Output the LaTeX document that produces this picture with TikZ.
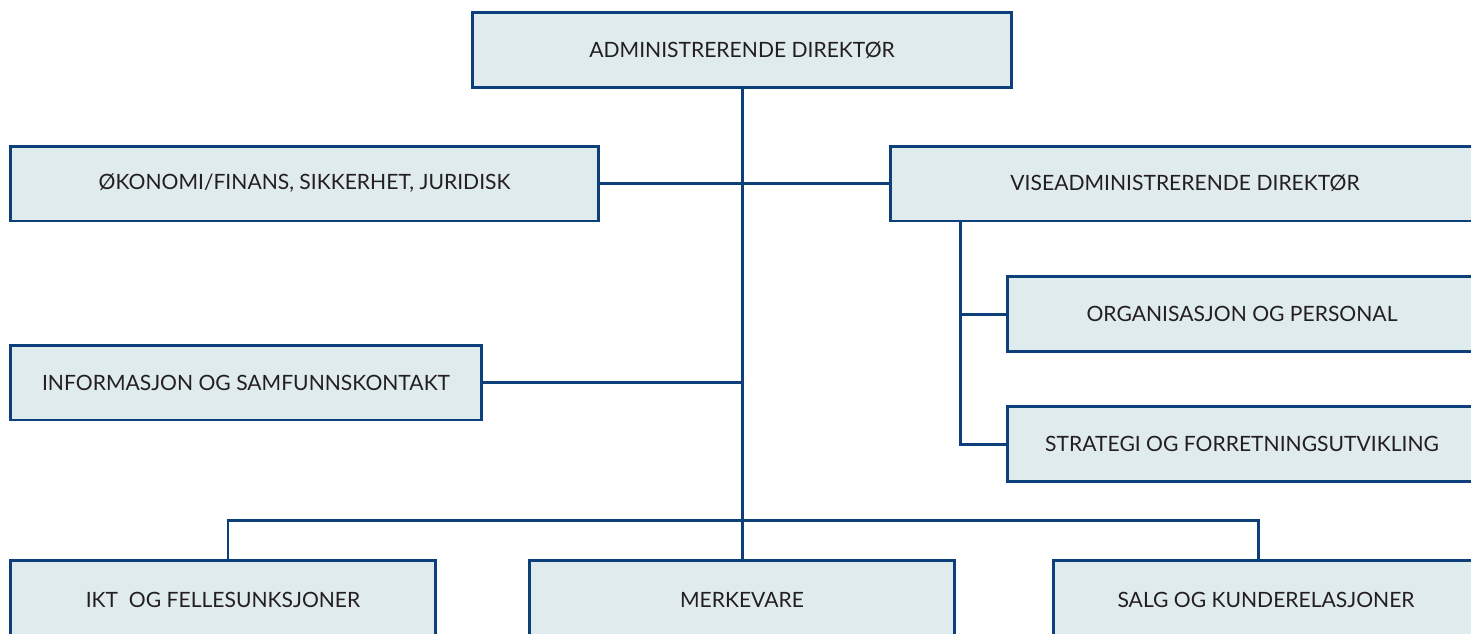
\documentclass[tikz,border=0pt]{standalone}
\usepackage{fontspec}
\setmainfont{Lato}
\definecolor{orgline}{HTML}{0D3F7A}
\definecolor{orgfill}{HTML}{E0EBED}
\definecolor{orgtext}{HTML}{231F20}
\begin{document}
\begin{tikzpicture}[x=0.02cm,y=-0.02cm,
		unit/.style={draw=orgline,fill=orgfill,line width=1.7pt,text=orgtext,
			font=\fontsize{12}{14}\selectfont,inner sep=0pt,minimum height=1.5cm},
		link/.style={draw=orgline,line width=1.7pt}]
				\useasboundingbox (0,0) rectangle (1471,633);
				\clip (0,0) rectangle (1471,633);

				\node [unit,minimum width=10.8cm] (adm) at (742,50) {ADMINISTRERENDE DIREKT\O R};
				\node [unit,minimum width=11.78cm] (okon) at (304.5,183.5) {\O KONOMI/FINANS, SIKKERHET, JURIDISK};
				\node [unit,minimum width=11.8cm] (vise) at (1185,183.5) {VISEADMINISTRERENDE DIREKT\O R};
				\node [unit,minimum width=9.4cm] (org) at (1242,314) {ORGANISASJON OG PERSONAL};
				\node [unit,minimum width=9.4cm] (strat) at (1242,444) {STRATEGI OG FORRETNINGSUTVIKLING};
				\node [unit,minimum width=9.44cm] (info) at (246,382.5) {INFORMASJON OG SAMFUNNSKONTAKT};
				\node [unit,minimum width=8.52cm,minimum height=1.6cm] (ikt) at (223,600) {IKT\ \ OG FELLESUNKSJONER};
				\node [unit,minimum width=8.52cm,minimum height=1.6cm] (merk) at (742,600) {MERKEVARE};
				\node [unit,minimum width=8.52cm,minimum height=1.6cm] (salg) at (1266,600) {SALG OG KUNDERELASJONER};

				\coordinate (busl) at (228,520);
				\coordinate (busr) at (1258,520);
				\coordinate (fork) at (960,0);

				\draw [link] (adm.south) -- (adm.south |- merk.north);
				\draw [link] (okon.east) -- (vise.west);
				\draw [link] (info.east) -- (info.east -| adm.south);
				\draw [link] (ikt.north -| busl) -- (busl) -- (busr) -- (salg.north -| busr);
				\draw [link] (vise.south -| fork) |- (strat.west);
				\draw [link] (org.west -| fork) -- (org.west);

			\end{tikzpicture}
\end{document}
